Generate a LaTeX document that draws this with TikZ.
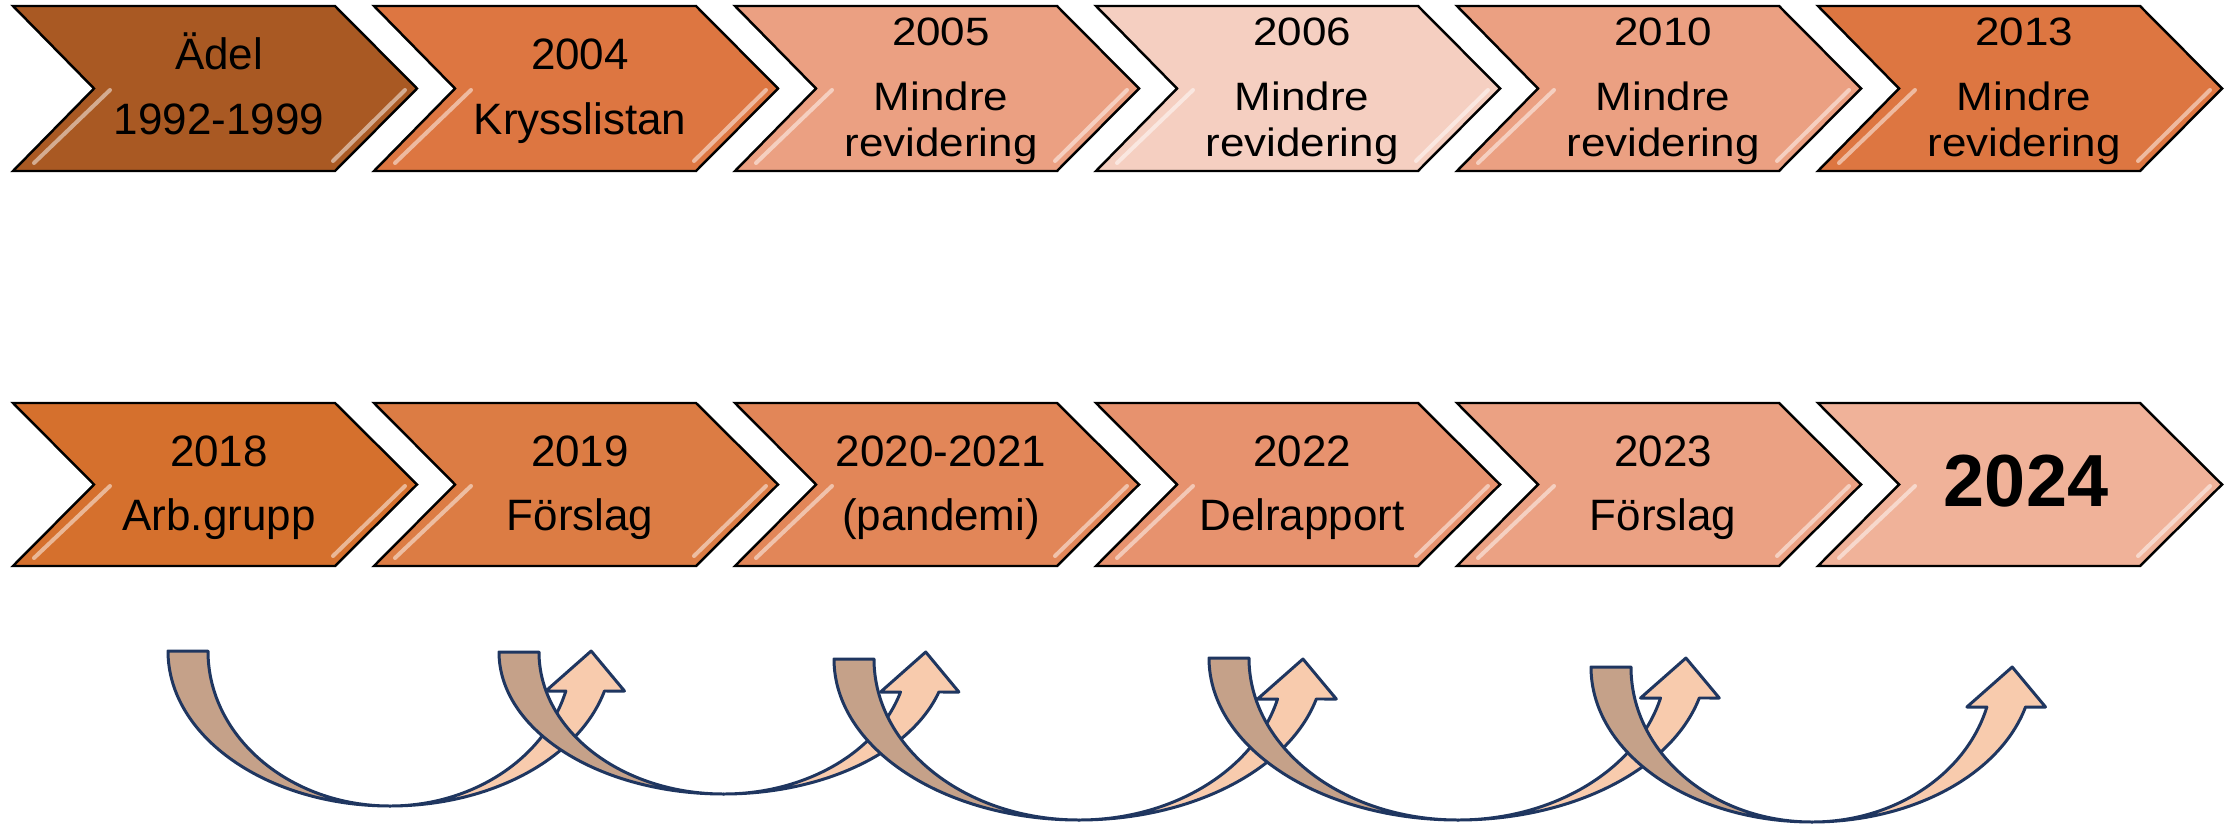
\documentclass[tikz,border=0pt]{standalone}
\usepackage{fontspec}
\setmainfont{Liberation Sans}
\usepackage{graphicx}
\definecolor{adel}{HTML}{A95923}
\definecolor{darkorange}{HTML}{DD7641}
\definecolor{midsalmon}{HTML}{EBA082}
\definecolor{palesalmon}{HTML}{F5CFC1}
\definecolor{arbgrupp}{HTML}{D5702D}
\definecolor{forslagA}{HTML}{DC7C44}
\definecolor{pandemi}{HTML}{E28658}
\definecolor{delrapport}{HTML}{E7926E}
\definecolor{forslagB}{HTML}{EBA183}
\definecolor{finalyear}{HTML}{F0B299}
\definecolor{arrowline}{HTML}{1F3660}
\definecolor{arrowback}{HTML}{C5A189}
\definecolor{arrowfront}{HTML}{F8CBAD}
\newcommand{\twolines}[2]{\begin{tabular}[t]{@{}c@{}}#1\\#2\end{tabular}}
\newcommand{\threelines}[3]{\scalebox{1}[0.9]{\fontsize{12.5}{14.5}\selectfont
  \begin{tabular}[t]{@{}c@{}}#1\\[0.22cm]#2\\#3\end{tabular}}}

\begin{document}
\begin{tikzpicture}[
	x=0.01cm, y=-0.01cm,
	chev/.style={draw=black, line width=0.7pt},
	shine/.style={white, opacity=0.5, line width=0.04cm, line cap=round},
	yeartext/.style={anchor=base, inner sep=0pt, font=\fontsize{12.5}{18.2}\selectfont},
	backarrow/.style={draw=arrowline, fill=arrowback, line width=0.85pt, line join=round},
	frontarrow/.style={draw=arrowline, fill=arrowfront, line width=0.85pt, line join=round},
	]
\useasboundingbox (0,0) rectangle (2236,824);

% chevrons, top row
\foreach \i/\col in {0/adel,1/darkorange,2/midsalmon,3/palesalmon,4/midsalmon,5/darkorange}{
  \pgfmathsetmacro\L{13+361*\i}
  \draw[chev, fill=\col] (\L,6) -- (\L+322,6) -- (\L+404,88.5) -- (\L+322,171)
    -- (\L,171) -- (\L+81,88.5) -- cycle;
  \draw[shine] (\L+97,90) -- (\L+21,163);
  \draw[shine] (\L+392,90) -- (\L+320,161);
}
% chevrons, bottom row
\foreach \i/\col in {0/arbgrupp,1/forslagA,2/pandemi,3/delrapport,4/forslagB,5/finalyear}{
  \pgfmathsetmacro\L{13+361*\i}
  \draw[chev, fill=\col] (\L,403) -- (\L+322,403) -- (\L+404,484.5) -- (\L+322,566)
    -- (\L,566) -- (\L+81,484.5) -- cycle;
  \draw[shine] (\L+97,486) -- (\L+21,558);
  \draw[shine] (\L+392,486) -- (\L+320,556);
}

\node[yeartext] (adel) at (219,70) {\twolines{Ädel}{1992-1999}};
\node[yeartext] (y2004) at (580,70) {\twolines{2004}{Krysslistan}};
\node[yeartext] (y2005) at (941,45) {\threelines{2005}{Mindre}{revidering}};
\node[yeartext] (y2006) at (1302,45) {\threelines{2006}{Mindre}{revidering}};
\node[yeartext] (y2010) at (1663,45) {\threelines{2010}{Mindre}{revidering}};
\node[yeartext] (y2013) at (2024,45) {\threelines{2013}{Mindre}{revidering}};

\node[yeartext] (y2018) at (219,466) {\twolines{2018}{Arb.grupp}};
\node[yeartext] (y2019) at (580,466) {\twolines{2019}{Förslag}};
\node[yeartext] (y2020) at (941,466) {\twolines{2020-2021}{(pandemi)}};
\node[yeartext] (y2022) at (1302,466) {\twolines{2022}{Delrapport}};
\node[yeartext] (y2023) at (1663,466) {\twolines{2023}{Förslag}};
\node[inner sep=0pt, font=\fontsize{21}{25}\selectfont\bfseries] (y2024) at (2026,481) {2024};

% curved arrows under the bottom row
\foreach \cx/\cy/\R/\h in {390/651/222/155, 723.5/652/224.5/142, 1079/659/245/161,
    1458/658/249/162, 1812/667/221/155}{
  \pgfmathsetmacro\r{\R-40}
  \pgfmathsetmacro\th{asin(40/\h)}
  \pgfmathsetmacro\xo{\cx+\R*cos(\th)}
  \pgfmathsetmacro\xi{\cx+\r*cos(\th)}
  \pgfmathsetmacro\xt{\cx+(\R-20)*cos(\th)+6}
  \draw[backarrow] (\cx-\R,\cy) arc[start angle=180, end angle=90, x radius=\R, y radius=\h]
    arc[start angle=90, end angle=180, x radius=\r, y radius=\h] -- cycle;
  \draw[frontarrow] (\cx,\cy+\h) arc[start angle=90, end angle=\th, x radius=\R, y radius=\h]
    -- (\xo+20,\cy+40) -- (\xt,\cy) -- (\xi-20,\cy+40) -- (\xi,\cy+40)
    arc[start angle=\th, end angle=90, x radius=\r, y radius=\h] -- cycle;
}
\end{tikzpicture}
\end{document}
